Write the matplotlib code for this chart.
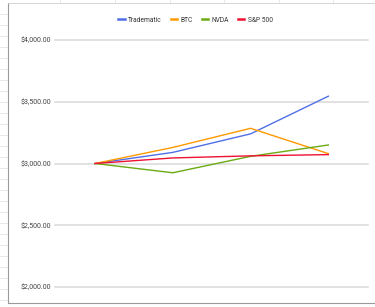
import matplotlib
matplotlib.use("Agg")
import matplotlib.pyplot as plt
from matplotlib.lines import Line2D

plt.rcParams['font.family'] = ['Roboto', 'DejaVu Sans']

periods = [0, 1, 2, 3]
series_names = ["Tradematic", "BTC", "NVDA", "S&P 500"]
tradematic = [3000, 3090, 3240, 3545]
btc = [3000, 3130, 3285, 3080]
nvda = [3000, 2925, 3058, 3150]
sp500 = [3000, 3045, 3062, 3072]
colors = ["#4f6fe8", "#ff9900", "#6aaa12", "#ee1133"]
yticks = [2000, 2500, 3000, 3500, 4000]
ytick_labels = ["$2,000.00", "$2,500.00", "$3,000.00", "$3,500.00", "$4,000.00"]

W, H = 375, 307
fig = plt.figure(figsize=(W/100, H/100), dpi=100)
fig.patch.set_facecolor("white")

# spreadsheet background hints
for yy in range(14, 307, 11):
    fig.add_artist(Line2D([0, 7/W], [1-yy/H, 1-yy/H], color="#e4e4e4", lw=0.6))
for xx in [60, 115, 170, 224, 279, 333]:
    fig.add_artist(Line2D([xx/W, xx/W], [1, 1-3/H], color="#e4e4e4", lw=0.6))
# chart border
fig.add_artist(Line2D([8/W, 8/W], [1-3/H, 1-303/H], color="#9a9a9a", lw=0.8))
fig.add_artist(Line2D([8/W, 1], [1-303/H, 1-303/H], color="#9a9a9a", lw=0.8))
fig.add_artist(Line2D([8/W, 1], [1-3/H, 1-3/H], color="#cfcfcf", lw=0.6))

ax = fig.add_axes([55/W, 1-287/H, 313/W, 247/H])
ax.set_facecolor("none")
ax.set_xlim(-0.515, 3.51)
ax.set_ylim(2000, 4000)
for s in ax.spines.values():
    s.set_visible(False)
ax.set_xticks([])
ax.set_yticks(yticks)
ax.set_yticklabels(ytick_labels, fontsize=5, color="#444444")
ax.tick_params(axis='y', length=0, pad=3)
for t in yticks:
    ax.axhline(t, color="#d9d9d9", lw=1.1, zorder=0, clip_on=False)

data = [tradematic, btc, nvda, sp500]
for name, vals, c in zip(series_names, data, colors):
    ax.plot(periods, vals, color=c, lw=1.0, label=name, clip_on=False, zorder=3)

leg = fig.legend(loc="center", bbox_to_anchor=(195.5/W, 1-20/H), ncol=4, frameon=False,
                 fontsize=4.8, handlelength=1.0, handletextpad=0.5, columnspacing=1.3)
for line in leg.get_lines():
    line.set_linewidth(1.8)
for t in leg.get_texts():
    t.set_color("#333333")

fig.savefig("out.png", dpi=100)
